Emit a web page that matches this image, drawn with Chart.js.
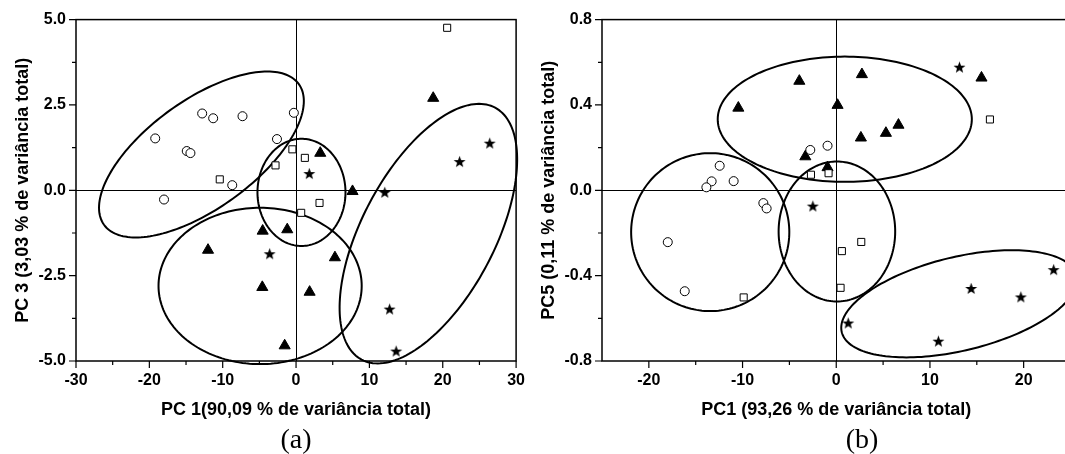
<!DOCTYPE html>
<html><head><meta charset="utf-8">
<script src="https://cdn.jsdelivr.net/npm/chart.js@4.4.1/dist/chart.umd.min.js"></script>
<style>
html,body{margin:0;padding:0;width:1065px;height:454px;overflow:hidden;background:#fff;}
canvas{position:absolute;top:0;}
#ca{left:0;}
#cb{left:525px;}
.lbl{position:absolute;font-family:'Liberation Serif','Times New Roman',serif;font-size:28px;line-height:32px;color:#000;transform:translateX(-50%);top:423px;white-space:nowrap;}
</style></head><body>
<canvas id="ca" width="535" height="454"></canvas>
<canvas id="cb" width="560" height="454"></canvas>
<div class="lbl" style="left:296px">(a)</div>
<div class="lbl" style="left:862px">(b)</div>
<script>
// ---------- Panel (a) data ----------
const aCircles = [[-19.2,1.52],[-12.8,2.25],[-11.3,2.11],[-7.3,2.17],[-0.3,2.27],[-2.6,1.50],[-14.9,1.15],[-14.4,1.09],[-8.7,0.15],[-18.0,-0.27]];
const aSquares = [[-10.4,0.32],[-2.8,0.73],[-0.5,1.2],[1.2,0.95],[3.2,-0.37],[0.7,-0.66],[20.6,4.76]];
const aTriangles = [[18.7,2.70],[3.3,1.09],[7.7,-0.03],[-1.2,-1.15],[5.3,-1.97],[1.85,-2.98],[-1.55,-4.55],[-12.0,-1.75],[-4.55,-1.19],[-4.6,-2.84]];
const aStars = [[1.8,0.49],[22.3,0.84],[26.4,1.38],[12.1,-0.06],[12.75,-3.48],[13.65,-4.71],[-3.6,-1.86]];
// ellipses: [centerX, centerY, u.x, u.y, v.x, v.y] (conjugate semi-diameters, data units)
const aEllipses = [[-12.9,1.05,13.28,2.06,4.31,-1.29],[0.74,-0.06,6.0,0,0,1.57],[-4.9,-2.8,13.85,0,0,2.29],[18.04,-1.27,9.10,3.69,7.98,-0.915]];
const aXTicks = [-30,-20,-10,0,10,20,30];
const aXMinor = [-25,-15,-5,5,15,25];
const aYTicks = [-5,-2.5,0,2.5,5];
const aYMinor = [-3.75,-1.25,1.25,3.75];
const aXTitle = 'PC 1(90,09 % de variância total)';
const aYTitle = 'PC 3 (3,03 % de variância total)';

// ---------- Panel (b) data ----------
const bCircles = [[-2.77,0.189],[-0.93,0.209],[-12.44,0.115],[-13.3,0.042],[-13.86,0.014],[-10.95,0.043],[-7.78,-0.06],[-7.43,-0.085],[-17.98,-0.243],[-16.17,-0.473]];
const bSquares = [[16.4,0.332],[-2.7,0.073],[-0.82,0.08],[2.67,-0.242],[0.6,-0.285],[0.46,-0.457],[-9.88,-0.502]];
const bTriangles = [[-10.45,0.386],[-3.94,0.512],[-3.3,0.158],[2.74,0.543],[0.14,0.399],[6.64,0.306],[5.3,0.268],[2.63,0.246],[15.5,0.527],[-0.93,0.107]];
const bStars = [[13.15,0.577],[-2.5,-0.074],[14.4,-0.46],[19.7,-0.50],[23.2,-0.372],[1.28,-0.622],[10.9,-0.707]];
const bEllipses = [[0.91,0.333,13.56,0,0,0.2935],[-13.45,-0.196,8.44,0,0,0.37],[0.07,-0.193,6.22,0,0,0.328],[13.11,-0.532,12.52,0.133,1.19,-0.213]];
const bXTicks = [-20,-10,0,10,20];
const bXMinor = [-15,-5,5,15,25];
const bYTicks = [-0.8,-0.4,0,0.4,0.8];
const bYMinor = [-0.6,-0.2,0.2,0.6];
const bXTitle = 'PC1 (93,26 % de variância total)';
const bYTitle = 'PC5 (0,11 % de variância total)';

Chart.defaults.font.family = "'Liberation Sans', Arial, sans-serif";
Chart.defaults.color = '#000';

function makeStar(R, r){
  const s = Math.ceil(R*2)+2;
  const c = document.createElement('canvas'); c.width = s; c.height = s;
  const g = c.getContext('2d'); g.beginPath();
  for (let i=0;i<10;i++){
    const rad = (i%2)? r : R;
    const ang = -Math.PI/2 + i*Math.PI/5;
    const px = s/2 + rad*Math.cos(ang), py = s/2 + 0.5 + rad*Math.sin(ang);
    if (i) g.lineTo(px,py); else g.moveTo(px,py);
  }
  g.closePath(); g.fillStyle = '#000'; g.fill();
  return c;
}
const starImg = makeStar(6.3, 2.6);

const framePlugin = {
  id: 'frame',
  beforeDatasetsDraw(chart, args, opts){
    const {ctx, chartArea:a, scales:{x,y}} = chart;
    ctx.save();
    ctx.strokeStyle = '#000';
    ctx.lineWidth = 1;
    const x0 = Math.round(x.getPixelForValue(0))+0.5;
    const y0 = Math.round(y.getPixelForValue(0))+0.5;
    ctx.beginPath();
    ctx.moveTo(a.left, y0); ctx.lineTo(a.right, y0);
    ctx.moveTo(x0, a.top); ctx.lineTo(x0, a.bottom);
    ctx.stroke();
    ctx.lineWidth = 2;
    for (const e of opts.ellipses){
      ctx.beginPath();
      const N = 180;
      for (let i=0;i<=N;i++){
        const t = i/N*2*Math.PI;
        const dx = e[0] + e[2]*Math.cos(t) + e[4]*Math.sin(t);
        const dy = e[1] + e[3]*Math.cos(t) + e[5]*Math.sin(t);
        const px = x.getPixelForValue(dx), py = y.getPixelForValue(dy);
        if (i) ctx.lineTo(px,py); else ctx.moveTo(px,py);
      }
      ctx.closePath();
      ctx.stroke();
    }
    ctx.restore();
  },
  afterDatasetsDraw(chart, args, opts){
    const {ctx, chartArea:a, scales:{x,y}} = chart;
    ctx.save();
    ctx.strokeStyle = '#000';
    ctx.lineWidth = 1.5;
    ctx.strokeRect(a.left, a.top, a.right-a.left, a.bottom-a.top);
    ctx.lineWidth = 1.2;
    ctx.beginPath();
    for (const v of opts.xMajor){ const p = x.getPixelForValue(v); ctx.moveTo(p, a.bottom); ctx.lineTo(p, a.bottom+7); }
    for (const v of opts.xMinor){ const p = x.getPixelForValue(v); ctx.moveTo(p, a.bottom); ctx.lineTo(p, a.bottom+4); }
    for (const v of opts.yMajor){ const p = y.getPixelForValue(v); ctx.moveTo(a.left-7, p); ctx.lineTo(a.left, p); }
    for (const v of opts.yMinor){ const p = y.getPixelForValue(v); ctx.moveTo(a.left-4, p); ctx.lineTo(a.left, p); }
    ctx.stroke();
    ctx.restore();
  }
};

function pts(arr){ return arr.map(([x,y]) => ({x, y})); }

function datasets(circ, sq, tri, st){
  return [
    {data: pts(circ), pointStyle:'circle', pointRadius:4.5, backgroundColor:'#fff', borderColor:'#000', borderWidth:1},
    {data: pts(sq), pointStyle:'rect', pointRadius:5, backgroundColor:'#fff', borderColor:'#000', borderWidth:1},
    {data: pts(tri), pointStyle:'triangle', pointRadius:6.4, backgroundColor:'#000', borderColor:'#000', borderWidth:1},
    {data: pts(st), pointStyle:starImg, pointRadius:6, backgroundColor:'#000', borderColor:'#000'}
  ];
}

function scale(axis, min, max, ticks, fmt, title, titlePad, fit){
  return {
    type:'linear', min, max,
    grid:{display:false, drawTicks:false}, border:{display:false},
    ticks:{font:{size:16, weight:'bold'}, color:'#000', padding:10, autoSkip:false, maxRotation:0,
      callback:(v) => fmt(v)},
    afterBuildTicks: s => { s.ticks = ticks.map(v => ({value:v})); },
    afterFit: s => { if (axis==='x') s.height = fit; else s.width = fit; },
    title:{display:true, text:title, font:{size:18, weight:'bold'}, color:'#000', padding: titlePad}
  };
}

function makeChart(id, d, opt){
  return new Chart(document.getElementById(id), {
    type:'scatter',
    data:{datasets: d},
    options:{
      responsive:false, animation:false, devicePixelRatio:1,
      layout:{padding: opt.pad},
      plugins:{legend:{display:false}, tooltip:{enabled:false}, frame: opt.frame},
      scales:{x: opt.x, y: opt.y}
    },
    plugins:[framePlugin]
  });
}

makeChart('ca', datasets(aCircles, aSquares, aTriangles, aStars), {
  pad:{top:18, right:16, bottom:0, left:0},
  frame:{ellipses:aEllipses, xMajor:aXTicks, xMinor:aXMinor, yMajor:aYTicks, yMinor:aYMinor},
  x: scale('x', -30, 30, aXTicks, v => String(v), aXTitle, {top:0, bottom:33}, 93),
  y: scale('y', -5, 5, aYTicks, v => v.toFixed(1), aYTitle, {top:12, bottom:0}, 76)
});

makeChart('cb', datasets(bCircles, bSquares, bTriangles, bStars), {
  pad:{top:17, right:14.5, bottom:0, left:0},
  frame:{ellipses:bEllipses, xMajor:bXTicks, xMinor:bXMinor, yMajor:bYTicks, yMinor:bYMinor},
  x: scale('x', -25, 25, bXTicks, v => String(v), bXTitle, {top:0, bottom:33}, 93),
  y: scale('y', -0.8, 0.8, bYTicks, v => v.toFixed(1), bYTitle, {top:13, bottom:0}, 77)
});
</script>
</body></html>
